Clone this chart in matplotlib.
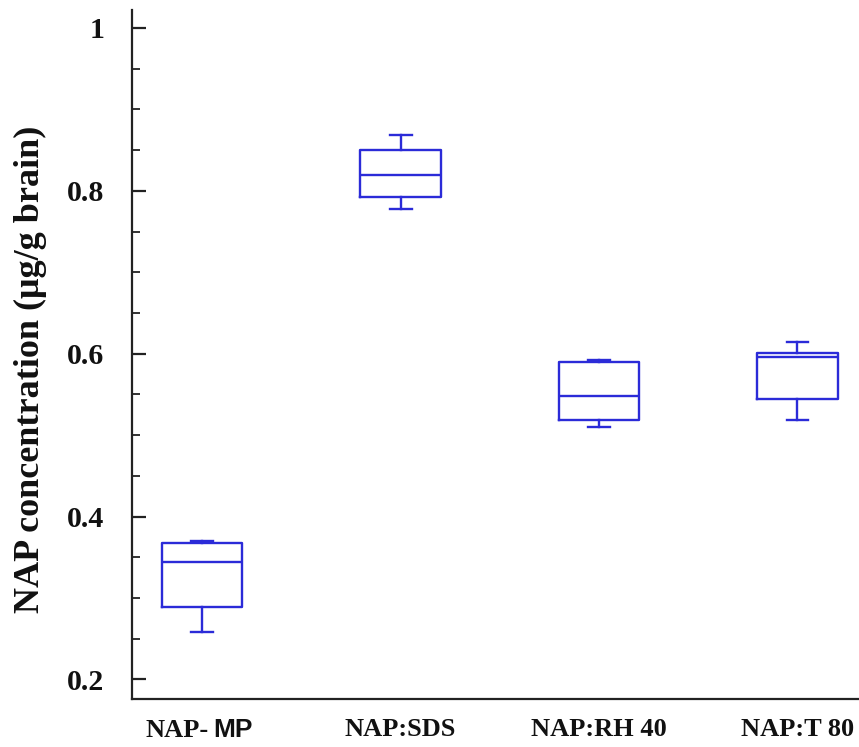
import matplotlib
matplotlib.use("Agg")
import matplotlib.pyplot as plt
from matplotlib.ticker import MultipleLocator

# box statistics per formulation
groups = ["NAP- MP", "NAP:SDS", "NAP:RH 40", "NAP:T 80"]
whislo = [0.258, 0.778, 0.510, 0.518]
q1 = [0.289, 0.792, 0.519, 0.544]
med = [0.344, 0.820, 0.548, 0.596]
q3 = [0.368, 0.850, 0.590, 0.601]
whishi = [0.370, 0.869, 0.592, 0.614]

blue = "#2b2bd8"
ink = "#111111"
serif = "Liberation Serif"

stats = []
for i in range(len(groups)):
    stats.append(dict(whislo=whislo[i], q1=q1[i], med=med[i], q3=q3[i],
                      whishi=whishi[i], fliers=[], label=groups[i]))

fig = plt.figure(figsize=(8.59, 7.47), dpi=100)
ax = fig.add_axes([0.1537, 0.0643, 0.8463, 0.9223])

lp = dict(color=blue, linewidth=1.7)
ax.bxp(stats, positions=[1, 2, 3, 4], widths=0.405, capwidths=0.11,
       showfliers=False, boxprops=lp, whiskerprops=lp, capprops=lp,
       medianprops=lp)

ax.set_xlim(0.646, 4.31)
ax.set_ylim(0.176, 1.022)

ax.spines["top"].set_visible(False)
ax.spines["right"].set_visible(False)
for s in ("left", "bottom"):
    ax.spines[s].set_linewidth(1.6)
    ax.spines[s].set_color("#222222")

ax.yaxis.set_minor_locator(MultipleLocator(0.05))
ax.set_yticks([0.2, 0.4, 0.6, 0.8, 1.0])
ax.set_yticklabels(["0.2", "0.4", "0.6", "0.8", "1"])
ax.tick_params(axis="y", which="major", direction="in", length=10, width=1.6,
               pad=20, color="#222222", labelsize=21.5)
ax.tick_params(axis="y", which="minor", direction="in", length=6, width=1.3,
               color="#222222")
ax.tick_params(axis="x", length=0, pad=14, labelsize=19)

# first category label is drawn separately (mixed serif / sans)
xlabels = list(groups)
xlabels[0] = ""
ax.set_xticks([1, 2, 3, 4])
ax.set_xticklabels(xlabels)

for lab in ax.get_yticklabels() + ax.get_xticklabels():
    lab.set_fontfamily(serif)
    lab.set_fontweight("bold")
    lab.set_color(ink)

head, tail = groups[0].split(" ")
xt = ax.get_xaxis_transform()
ax.annotate(head, xy=(1, 0), xycoords=xt, xytext=(4.5, -27.5),
            textcoords="offset points", ha="right", va="baseline",
            fontsize=19, fontweight="bold", family=serif, color=ink)
ax.annotate(tail, xy=(1, 0), xycoords=xt, xytext=(8, -27.5),
            textcoords="offset points", ha="left", va="baseline",
            fontsize=19, fontweight="bold", family="Liberation Sans",
            color=ink)

ax.set_ylabel("NAP concentration (\u03bcg/g brain)", fontfamily=serif,
              fontweight="bold", fontsize=26, labelpad=14, color=ink)
ax.yaxis.label.set_y(0.479)

fig.savefig("out.png", dpi=100)
